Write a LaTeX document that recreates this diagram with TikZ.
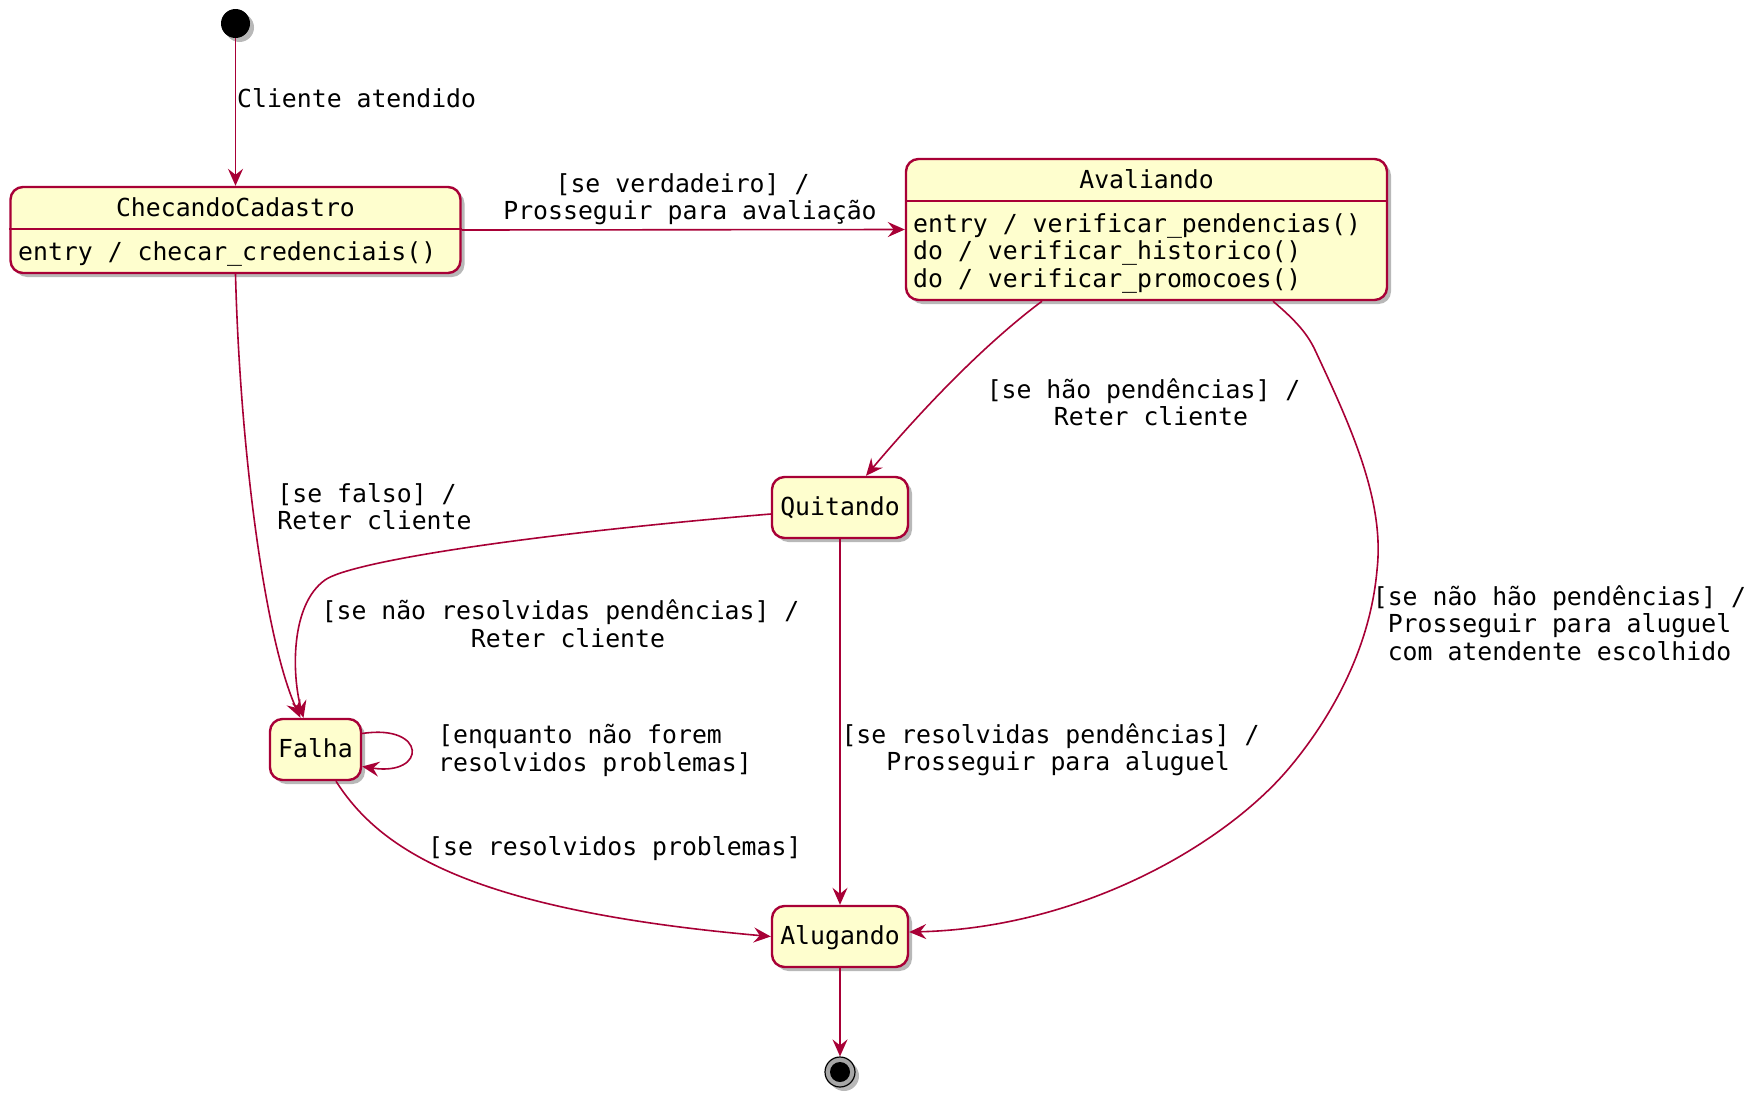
\documentclass[tikz,border=0pt]{standalone}
\usepackage{fontspec}
\setmonofont{DejaVu Sans Mono}
\usetikzlibrary{arrows.meta,shadows}
\definecolor{umlred}{HTML}{A80036}
\definecolor{umlfill}{HTML}{FEFECE}
\tikzset{
  txt/.style={font=\ttfamily\fontsize{24.8}{27.5}\selectfont, text=black},
  shadowed/.style={drop shadow={shadow xshift=4pt, shadow yshift=-4pt, fill=black, opacity=0.28}},
  statebox/.style={txt, draw=umlred, fill=umlfill, line width=2.4pt, rounded corners=12.5pt,
    inner sep=0pt, text height=18pt, text depth=2pt, shadowed},
  divider/.style={draw=umlred, line width=2.4pt},
  conn/.style={draw=umlred, line width=1.6pt, -{Stealth[length=17pt,width=15pt,inset=6pt]}},
  lbl/.style={txt, inner sep=0pt, align=center, anchor=base},
  intext/.style={txt, inner sep=0pt, anchor=base},
}
\begin{document}
\begin{tikzpicture}[x=1pt,y=-1pt]
\fill[white] (0,0) rectangle (1764,1111);
\useasboundingbox (0,0) rectangle (1764,1111);

% initial and final pseudo-states
\node[circle, fill=black, minimum size=29pt, inner sep=0pt, shadowed] (init) at (235.5,23.5) {};
\node[circle, draw=black, fill=black!35, line width=1.2pt, minimum size=30pt, inner sep=0pt, shadowed] (fin) at (840,1072) {};
\fill[black] (fin.center) circle[radius=10pt];

% composite states
\node[statebox, minimum width=450pt, minimum height=86pt] (cc) at (235.5,230) {};
\draw[divider] ([yshift=-43pt]cc.north west) -- ([yshift=-43pt]cc.north east);
\node[intext] (cct) at (235.5,216.5) {ChecandoCadastro};
\node[intext, anchor=base west] (cce) at (18,260) {entry / checar\_credenciais()};

\node[statebox, minimum width=481pt, minimum height=141pt] (av) at (1146.5,229.5) {};
\draw[divider] ([yshift=-43pt]av.north west) -- ([yshift=-43pt]av.north east);
\node[intext] (avt) at (1146.5,188) {Avaliando};
% base anchor of a multi-line node = baseline of its last line
\node[intext, anchor=base west, align=left] (ave) at (913,287) {entry / verificar\_pendencias()\\do / verificar\_historico()\\do / verificar\_promocoes()};

% simple states
\node[statebox, minimum width=136pt, minimum height=61pt] (q) at (840,507.5) {Quitando};
\node[statebox, minimum width=91pt, minimum height=61pt] (falha) at (315.5,749.5) {Falha};
\node[statebox, minimum width=136pt, minimum height=61pt] (al) at (840,936.5) {Alugando};

% connectors
\draw[conn] (init) -- (cc);
\draw[conn] (cc.east) -- (av.west);
\draw[conn] (cc.south) .. controls (240,450) and (265,640) .. ([xshift=-15pt]falha.north);
\draw[conn] ([xshift=-104.5pt]av.south) .. controls (990,340) and (930,400) .. ([xshift=26pt]q.north);
\draw[conn] ([yshift=-6.5pt]q.west) .. controls (520,535) and (350,562) .. (325,580)
   .. controls (290,605) and (292,675) .. ([xshift=-12pt]falha.north);
\draw[conn] ([xshift=126.5pt]av.south) .. controls (1295,320) and (1307,333) .. (1315,350)
   .. controls (1350,425) and (1385,500) .. (1377,570)
   .. controls (1370,650) and (1330,719) .. (1290,767)
   .. controls (1225,845) and (1080,928) .. ([yshift=4.5pt]al.east);
\draw[conn] ([yshift=16pt]falha.east) .. controls +(65,-10) and +(65,10) .. ([yshift=-17pt]falha.east);
\draw[conn] ([xshift=20.5pt]falha.south) .. controls (380,850) and (470,910) .. (al.west);
\draw[conn] (q) -- (al);
\draw[conn] (al) -- (fin);

% labels (anchor base = last line's baseline)
\node[lbl, anchor=base west] (l1) at (237,107) {Cliente atendido};
\node[lbl] (l2) at (690,219.5) {[se verdadeiro] /\hphantom{x}\\Prosseguir para avaliação};
\node[lbl] (l3) at (1151,425.5) {[se hão pendências] /\hphantom{x}\\Reter cliente};
\node[lbl] (l4) at (374.5,529.5) {[se falso] /\hphantom{x}\\Reter cliente};
\node[lbl] (l5) at (568,647) {[se não resolvidas pendências] /\hphantom{x}\\Reter cliente};
\node[lbl] (l6) at (1559.5,660) {[se não hão pendências] /\\Prosseguir para aluguel\\com atendente escolhido};
\node[lbl, align=left, anchor=base west] (l7) at (438,771) {[enquanto não forem\\resolvidos problemas]};
\node[lbl] (l8) at (1058,770.5) {[se resolvidas pendências] /\hphantom{x}\\Prosseguir para aluguel};
\node[lbl, anchor=base west] (l9) at (428,855) {[se resolvidos problemas]};
\end{tikzpicture}
\end{document}
